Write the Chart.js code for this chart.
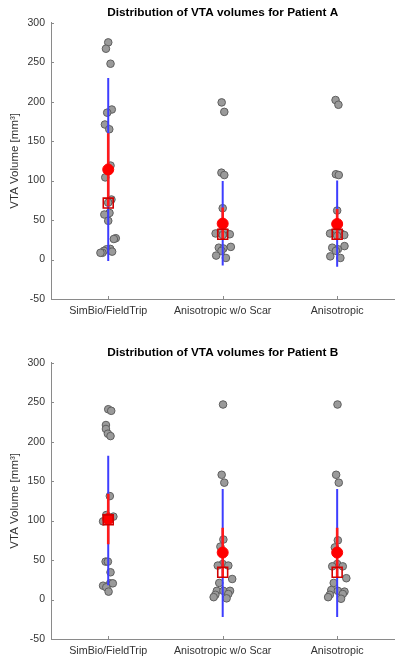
<!DOCTYPE html>
<html>
<head>
<meta charset="utf-8">
<script src="https://cdn.jsdelivr.net/npm/chart.js@4.4.1/dist/chart.umd.min.js"></script>
<style>
    html, body { margin: 0; padding: 0; background: #fff; width: 401px; height: 660px; overflow: hidden; }
    .panel { position: absolute; left: 0; width: 403px; height: 340px; }
    #panelA { top: 0; }
    #panelB { top: 340px; }
</style>
</head>
<body>
<div class="panel" id="panelA"><canvas id="chartA"></canvas></div>
<div class="panel" id="panelB"><canvas id="chartB"></canvas></div>
<script>
const categories = ["SimBio/FieldTrip", "Anisotropic w/o Scar", "Anisotropic"];
const yTickValues = [-50, 0, 50, 100, 150, 200, 250, 300];

// Patient A: individual VTA volumes (mm^3) per method, with horizontal jitter (category units)
const volA1 = [275, 267, 248, 190, 186, 171, 165, 119, 104, 76, 72, 59, 57, 49, 27, 26, 13.5, 13, 11, 10, 8.5, 8.5];
const jitA1 = [0, -0.02, 0.02, 0.031, -0.009, -0.029, 0.009, 0.02, -0.026, 0.028, 0, 0.011, -0.034, 0, 0.066, 0.049, 0.017, -0.014, -0.037, 0.034, -0.051, -0.068];
const volA2 = [199, 187, 110, 107, 65, 46, 34, 34, 33, 32, 31, 16, 15, 14, 11, 5, 2];
const jitA2 = [-0.009, 0.014, -0.011, 0.014, 0, 0, -0.028, 0.028, -0.062, 0.062, 0, 0.071, -0.034, 0.006, -0.011, -0.057, 0.028];
const volA3 = [202, 196, 108, 107, 62, 45, 34, 33, 33, 31, 30, 17, 15, 13, 11, 4, 2];
const jitA3 = [-0.014, 0.011, -0.011, 0.014, 0, 0, -0.028, 0.034, -0.062, 0.062, 0, 0.064, -0.043, 0.006, -0.011, -0.06, 0.028];

const meanA = [114, 45.5, 45];
const medianA = [71.5, 32, 32];
const stdLoA = [-2, -7.6, -9];
const stdHiA = [230, 99.5, 100];
const ciLoA = [67, 25, 26];
const ciHiA = [160, 66, 64];

// Patient B
const volB1 = [241, 239, 221, 216, 210, 207, 131, 107, 105, 101, 99, 48, 48, 34.5, 20.5, 20.5, 17.5, 15.5, 10];
const jitB1 = [0, 0.026, -0.02, -0.02, -0.003, 0.02, 0.014, -0.017, 0.045, 0, -0.045, -0.023, -0.003, 0.02, 0.017, 0.04, -0.045, -0.017, 0.003];
const volB2 = [247, 158, 148, 76, 67, 45, 43, 43, 26, 21, 11, 11, 11, 7, 6, 3, 1.5];
const jitB2 = [0.003, -0.009, 0.014, 0.006, -0.02, 0, -0.043, 0.049, 0.083, -0.03, -0.051, 0.006, 0.064, 0.049, -0.064, -0.079, 0.034];
const volB3 = [247, 158, 148, 75, 66, 45, 42, 42, 27, 21, 12, 11, 10, 7, 6, 3, 1];
const jitB3 = [0.003, -0.009, 0.014, 0.006, -0.02, 0, -0.043, 0.049, 0.08, -0.03, -0.051, 0.006, 0.064, 0.049, -0.064, -0.079, 0.034];

const meanB = [102, 59.5, 59.5];
const medianB = [101, 34.5, 34.5];
const stdLoB = [18, -22, -22];
const stdHiB = [182, 140, 140];
const ciLoB = [70, 28, 28];
const ciHiB = [134, 91, 91];

// small inward tick marks like MATLAB axes
const inwardTicks = {
    id: "inwardTicks",
    afterDraw(chart) {
        const ctx = chart.ctx;
        const xs = chart.scales.x;
        const ys = chart.scales.y;
        const area = chart.chartArea;
        ctx.save();
        ctx.strokeStyle = "#8a8a8a";
        ctx.lineWidth = 1;
        ctx.beginPath();
        yTickValues.forEach(v => {
            const py = Math.round(ys.getPixelForValue(v)) + 0.5;
            ctx.moveTo(area.left, py);
            ctx.lineTo(area.left + 3, py);
        });
        [1, 2, 3].forEach(v => {
            const px = Math.round(xs.getPixelForValue(v)) + 0.5;
            ctx.moveTo(px, area.bottom);
            ctx.lineTo(px, area.bottom - 3);
        });
        ctx.stroke();
        ctx.restore();
    }
};

function pointsOf(values, jitter, pos) {
    return values.map((v, i) => ({ x: pos + jitter[i], y: v }));
}

function segments(lo, hi) {
    const out = [];
    lo.forEach((v, i) => {
        out.push({ x: i + 1, y: v });
        out.push({ x: i + 1, y: hi[i] });
        out.push({ x: i + 1, y: null });
    });
    return out;
}

function renderPatientChart(canvasId, title, groups, jitters, means, medians, stdLo, stdHi, ciLo, ciHi) {
    const canvas = document.getElementById(canvasId);
    const ctx = canvas.getContext("2d");

    const raw = [];
    groups.forEach((vals, g) => {
        pointsOf(vals, jitters[g], g + 1).forEach(p => raw.push(p));
    });

    return new Chart(ctx, {
        type: "scatter",
        data: {
            datasets: [
                {
                    label: "Median",
                    data: medians.map((v, i) => ({ x: i + 1, y: v })),
                    pointStyle: "rect",
                    pointRadius: 7,
                    backgroundColor: "rgba(0,0,0,0)",
                    borderColor: "#d00000",
                    borderWidth: 1.6,
                    order: 0
                },
                {
                    label: "Mean",
                    data: means.map((v, i) => ({ x: i + 1, y: v })),
                    pointRadius: 5.5,
                    backgroundColor: "#ff0000",
                    borderColor: "#ff0000",
                    borderWidth: 1,
                    order: 1
                },
                {
                    label: "CI",
                    data: segments(ciLo, ciHi),
                    showLine: true,
                    spanGaps: false,
                    pointRadius: 0,
                    borderColor: "#ff1a1a",
                    borderWidth: 2.6,
                    order: 2
                },
                {
                    label: "SD",
                    data: segments(stdLo, stdHi),
                    showLine: true,
                    spanGaps: false,
                    pointRadius: 0,
                    borderColor: "#3d3dff",
                    borderWidth: 2,
                    order: 3
                },
                {
                    label: "VTA",
                    data: raw,
                    pointRadius: 3.8,
                    backgroundColor: "#9a9a9a",
                    borderColor: "#5e5e5e",
                    borderWidth: 1,
                    order: 4
                }
            ]
        },
        options: {
            responsive: true,
            maintainAspectRatio: false,
            animation: false,
            events: [],
            layout: { padding: 0 },
            plugins: {
                legend: { display: false },
                tooltip: { enabled: false },
                title: {
                    display: true,
                    text: title,
                    fullSize: false,
                    color: "#000",
                    font: { family: "Liberation Sans, Arial, sans-serif", size: 11.8, weight: "bold" },
                    padding: { top: 5.5, bottom: 3 }
                }
            },
            scales: {
                x: {
                    type: "linear",
                    min: 0.5,
                    max: 3.5,
                    afterBuildTicks: scale => {
                        scale.ticks = [1, 2, 3].map(v => ({ value: v }));
                    },
                    afterFit: scale => { scale.height = 41; },
                    grid: { display: false, drawTicks: false },
                    border: { display: true, color: "#8a8a8a", width: 1 },
                    ticks: {
                        autoSkip: false,
                        maxRotation: 0,
                        padding: 6,
                        color: "#333",
                        font: { family: "Liberation Sans, Arial, sans-serif", size: 10.7 },
                        callback: v => categories[v - 1]
                    }
                },
                y: {
                    min: -50,
                    max: 300,
                    afterFit: scale => { scale.width = 51; },
                    grid: { display: false, drawTicks: false },
                    border: { display: true, color: "#8a8a8a", width: 1 },
                    ticks: {
                        stepSize: 50,
                        padding: 6,
                        color: "#333",
                        font: { family: "Liberation Sans, Arial, sans-serif", size: 10.5 }
                    },
                    title: {
                        display: true,
                        text: "VTA Volume [mm³]",
                        color: "#333",
                        font: { family: "Liberation Sans, Arial, sans-serif", size: 11.5 },
                        padding: { top: 8, bottom: 0 }
                    }
                }
            }
        },
        plugins: [inwardTicks]
    });
}

renderPatientChart("chartA", "Distribution of VTA volumes for Patient A",
    [volA1, volA2, volA3], [jitA1, jitA2, jitA3], meanA, medianA, stdLoA, stdHiA, ciLoA, ciHiA);
renderPatientChart("chartB", "Distribution of VTA volumes for Patient B",
    [volB1, volB2, volB3], [jitB1, jitB2, jitB3], meanB, medianB, stdLoB, stdHiB, ciLoB, ciHiB);
</script>
</body>
</html>
